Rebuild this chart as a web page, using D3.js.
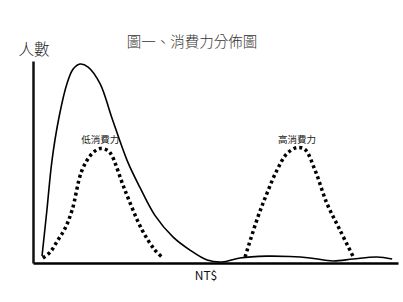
<!DOCTYPE html>
<html><head><meta charset="utf-8">
<script src="https://cdn.jsdelivr.net/npm/d3@7"></script>
<style>body{margin:0;background:#fff}svg{display:block}text{font-family:"Noto Sans CJK TC","Noto Sans CJK SC",sans-serif}</style>
</head><body>
<script>
const title = "圖一、消費力分佈圖";
const yLabel = "人數";
const xLabel = "NT$";
const seriesNames = ["低消費力", "高消費力"];
// total distribution (solid)
const totalX = [2.47,3.8,5.2,7.1,9.3,11,12.9,15.1,18.4,21.6,25.8,29.3,33.4,38.4,43,47.7,51.8,56.7,64.1,70.4,75.9,82.2,87.7,94.2,98.4];
const totalY = [3.4,26,50.7,71.9,88.7,96,98.5,97,88.7,71.9,50.7,37.4,23.6,12.8,6.4,1.5,0.5,2.5,3.4,3.2,2.5,1,2,3,2];
// low spending power (dotted)
const lowX = [2.7,4.7,6.8,8.8,10.7,13.4,16.2,18.4,20.5,21.6,25.2,29.9,33.4,35.6];
const lowY = [2.5,5.4,11.3,17.2,26.1,45.8,54.2,56.7,55.7,53.2,36,16.3,6.4,2.5];
// high spending power (dotted)
const highX = [58.1,61.6,64.1,66.8,69.6,72.3,74.5,77.3,80.5,84.1,87.9];
const highY = [3,22.7,34.5,45.8,54.2,57.1,56.2,45.8,29.6,16.3,2.5];

const W = 403, H = 302;
const svg = d3.select("body").append("svg").attr("width", W).attr("height", H);
const x = d3.scaleLinear().domain([0, 100]).range([33, 398]);
const y = d3.scaleLinear().domain([0, 100]).range([263, 61]);

const line = d3.line().x(d => x(d[0])).y(d => y(d[1])).curve(d3.curveCatmullRom.alpha(0.5));
const zip = (a, b) => a.map((v, i) => [v, b[i]]);

svg.append("path").attr("d", line(zip(totalX, totalY)))
  .attr("fill", "none").attr("stroke", "#000").attr("stroke-width", 1.6);
svg.append("path").attr("d", line(zip(lowX, lowY)))
  .attr("fill", "none").attr("stroke", "#000").attr("stroke-width", 3.5).attr("stroke-dasharray", "3,3");
svg.append("path").attr("d", line(zip(highX, highY)))
  .attr("fill", "none").attr("stroke", "#000").attr("stroke-width", 3.5).attr("stroke-dasharray", "3,3");

// axes
const gx = svg.append("g").attr("transform", `translate(0,${y(0)})`)
  .call(d3.axisBottom(x).tickValues([]).tickSizeOuter(0));
gx.select(".domain").attr("stroke", "#000").attr("stroke-width", 2.5);
const gy = svg.append("g").attr("transform", `translate(${x(0)},0)`)
  .call(d3.axisLeft(y).tickValues([]).tickSizeOuter(0));
gy.select(".domain").attr("stroke", "#111").attr("stroke-width", 2.5);

svg.append("text").attr("x", 192).attr("y", 47).attr("text-anchor", "middle")
  .attr("font-size", 14.5).attr("font-weight", 300).attr("fill", "#333").text(title);
svg.append("text").attr("x", 34).attr("y", 55).attr("text-anchor", "middle")
  .attr("font-size", 15.5).attr("font-weight", 300).attr("fill", "#222").text(yLabel);
svg.append("text").attr("x", 206).attr("y", 280).attr("text-anchor", "middle")
  .attr("font-size", 12).attr("fill", "#111").text(xLabel);
svg.append("text").attr("x", x(18.4)).attr("y", 143).attr("text-anchor", "middle")
  .attr("font-size", 9.5).attr("fill", "#222").text(seriesNames[0]);
svg.append("text").attr("x", x(72.3)).attr("y", 143).attr("text-anchor", "middle")
  .attr("font-size", 9.5).attr("fill", "#222").text(seriesNames[1]);
</script>
</body></html>
